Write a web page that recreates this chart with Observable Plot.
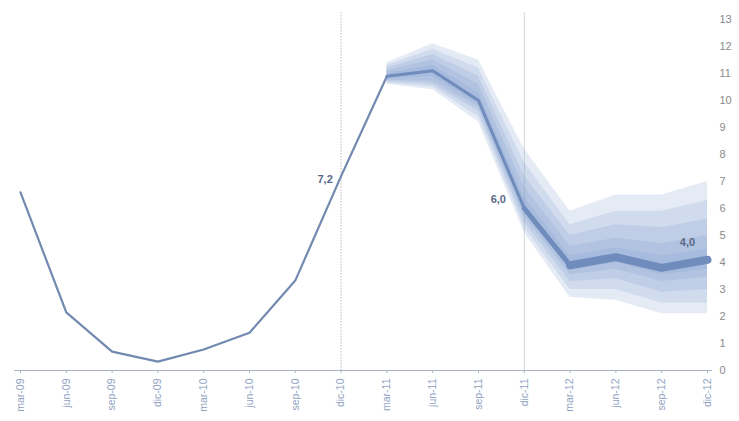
<!DOCTYPE html>
<html>
<head>
<meta charset="utf-8">
<script src="https://cdn.jsdelivr.net/npm/d3@7"></script>
<script src="https://cdn.jsdelivr.net/npm/@observablehq/plot@0.6"></script>
<style>
  html, body { margin: 0; padding: 0; background: #fff; }
  #chart { width: 739px; height: 421px; }
</style>
</head>
<body>
<div id="chart"></div>
<script>
// Quarters (tick labels)
const quarters = ["mar-09","jun-09","sep-09","dic-09","mar-10","jun-10","sep-10","dic-10",
                  "mar-11","jun-11","sep-11","dic-11","mar-12","jun-12","sep-12","dic-12"];
// Central path
const central = [6.6, 2.15, 0.7, 0.33, 0.78, 1.4, 3.33, 7.2, 10.9, 11.1, 10.0, 6.0, 3.9, 4.2, 3.8, 4.1];

// Fan chart quarters and bands (outer to inner)
const fanQuarters = ["mar-11","jun-11","sep-11","dic-11","mar-12","jun-12","sep-12","dic-12"];
const hi1 = [11.4, 12.1, 11.5, 8.2, 5.9, 6.5, 6.5, 7.0];
const lo1 = [10.6, 10.4, 9.2, 5.1, 2.7, 2.6, 2.1, 2.1];
const hi2 = [11.3, 11.9, 11.2, 7.7, 5.4, 5.9, 5.9, 6.3];
const lo2 = [10.65, 10.5, 9.4, 5.3, 3.0, 3.0, 2.5, 2.5];
const hi3 = [11.2, 11.7, 10.9, 7.2, 5.0, 5.4, 5.3, 5.6];
const lo3 = [10.7, 10.6, 9.6, 5.5, 3.3, 3.4, 2.9, 3.0];
const hi4 = [11.1, 11.5, 10.6, 6.8, 4.6, 4.9, 4.7, 5.0];
const lo4 = [10.75, 10.7, 9.75, 5.7, 3.55, 3.75, 3.3, 3.45];
const hi5 = [11.0, 11.3, 10.3, 6.4, 4.25, 4.55, 4.25, 4.5];
const lo5 = [10.8, 10.9, 9.85, 5.85, 3.7, 4.0, 3.55, 3.75];

// Annotated values
const labelQuarters = ["dic-10", "dic-11", "dic-12"];
const labelValues = [7.2, 6.0, 4.0];
const labelTexts = ["7,2", "6,0", "4,0"];

// Vertical markers
const markers = ["dic-10", "dic-11"];

const yTicks = d3.range(0, 14);

const rows = quarters.map((q, i) => ({q, v: central[i], i}));
const bands = [[lo1, hi1], [lo2, hi2], [lo3, hi3], [lo4, hi4], [lo5, hi5]].map(([lo, hi]) =>
  fanQuarters.map((q, i) => ({q, lo: lo[i], hi: hi[i]})));

const hist = rows.filter(d => d.i <= 8);
const mid = rows.filter(d => d.i >= 8 && d.i <= 11);
const trans = rows.filter(d => d.i >= 11 && d.i <= 12);
const fut = rows.filter(d => d.i >= 12);
const labels = labelQuarters.map((q, i) => ({q, v: labelValues[i], t: labelTexts[i]}));

const fanColor = "#7d9acb";
const lineColor = "#6f8cbd";

const plot = Plot.plot({
  width: 739,
  height: 421,
  marginLeft: 20,
  marginRight: 32,
  marginTop: 19,
  marginBottom: 51,
  style: {fontFamily: "Liberation Sans, Arial, sans-serif", background: "#fff"},
  x: {type: "point", domain: quarters, padding: 0, round: false},
  y: {domain: [0, 13]},
  marks: [
    Plot.ruleX(markers.slice(0,1), {x: d => d, stroke: "#bdbdbd", strokeWidth: 1, strokeDasharray: "1.5,1.5", insetTop: -7}),
    Plot.ruleX(markers.slice(1,2), {x: d => d, stroke: "#d6d6d6", strokeWidth: 1, insetTop: -7}),
    ...bands.map(b => Plot.areaY(b, {x: "q", y1: "lo", y2: "hi", fill: fanColor, fillOpacity: 0.2, curve: "linear"})),
    Plot.ruleY([0], {stroke: "#aab4c4", strokeWidth: 1, insetLeft: -6, insetRight: -5}),
    Plot.line(hist, {x: "q", y: "v", stroke: "#7289b0", strokeWidth: 2.2}),
    Plot.line(mid, {x: "q", y: "v", stroke: lineColor, strokeWidth: 3}),
    Plot.line(trans, {x: "q", y: "v", stroke: lineColor, strokeWidth: 5}),
    Plot.line(fut, {x: "q", y: "v", stroke: lineColor, strokeWidth: 8}),
    Plot.text(labels.slice(0,1), {x: "q", y: "v", text: "t", dx: -16, dy: 3, fontWeight: "bold", fontSize: 11, fill: "#5b6886"}),
    Plot.text(labels.slice(1,2), {x: "q", y: "v", text: "t", dx: -26, dy: -9, fontWeight: "bold", fontSize: 11, fill: "#5b6886"}),
    Plot.text(labels.slice(2,3), {x: "q", y: "v", text: "t", dx: -20, dy: -20, fontWeight: "bold", fontSize: 11, fill: "#5b6886"}),
    Plot.axisY(yTicks, {anchor: "right", tickSize: 0, tickPadding: 12, fontSize: 11, color: "#8a8a8a", label: null}),
    Plot.axisX({anchor: "bottom", tickSize: 3, tickPadding: 5, tickRotate: -90, fontSize: 10.5, color: "#8fa2c2", stroke: "#aab4c4", label: null})
  ]
});
document.getElementById("chart").appendChild(plot);
</script>
</body>
</html>
